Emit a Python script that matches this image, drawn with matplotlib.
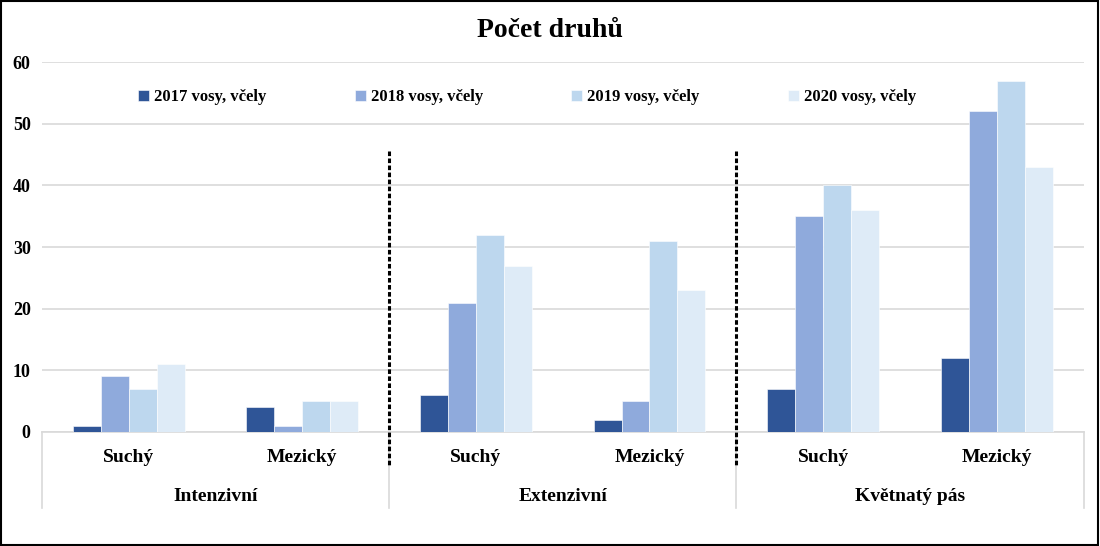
import numpy as np
import matplotlib
matplotlib.use("Agg")
import matplotlib.pyplot as plt
from matplotlib.lines import Line2D
from matplotlib.patches import Rectangle

# data
groups = ["Intenzivní", "Extenzivní", "Květnatý pás"]
habitats = ["Suchý", "Mezický"]
series_names = ["2017 vosy, včely", "2018 vosy, včely", "2019 vosy, včely", "2020 vosy, včely"]
v2017 = [1, 4, 6, 2, 7, 12]
v2018 = [9, 1, 21, 5, 35, 52]
v2019 = [7, 5, 32, 31, 40, 57]
v2020 = [11, 5, 27, 23, 36, 43]
colors = ["#2F5597", "#8FAADC", "#BDD7EE", "#DEEBF7"]

plt.rcParams['font.family'] = ['Liberation Serif', 'DejaVu Serif']
plt.rcParams['font.weight'] = 'bold'

fig = plt.figure(figsize=(11, 5.46), dpi=100)
ax = fig.add_axes([0.038, 0.2088, 0.947, 0.6776])

x = np.arange(len(v2017))
w = 0.161
for i, (vals, name) in enumerate(zip([v2017, v2018, v2019, v2020], series_names)):
    ax.bar(x + (i - 1.5) * w, vals, w, color=colors[i], label=name,
           edgecolor="white", linewidth=0.4, zorder=3)

ax.set_xlim(-0.5, 5.5)
ax.set_ylim(0, 60)
ax.set_yticks(range(0, 61, 10))
ax.yaxis.grid(True, color="#D9D9D9", linewidth=1.2, zorder=0)
ax.set_axisbelow(True)
for s in ["top", "right", "left"]:
    ax.spines[s].set_visible(False)
ax.spines["bottom"].set_color("#D9D9D9")
ax.spines["bottom"].set_linewidth(1.2)
ax.tick_params(axis="y", length=0, labelsize=13, pad=8)
ax.tick_params(axis="x", length=0)
ax.set_xticks([])

# two level category labels
trans = ax.get_xaxis_transform()
for k, xv in enumerate(x):
    ax.text(xv, -0.07, habitats[k % 2], transform=trans, ha="center", va="center",
            fontsize=14, fontweight="bold")
for g, name in enumerate(groups):
    ax.text(2 * g + 0.5, -0.175, name, transform=trans, ha="center", va="center",
            fontsize=14, fontweight="bold")
for b in [-0.5, 1.5, 3.5, 5.5]:
    ax.add_line(Line2D([b, b], [0, -0.205], transform=trans, color="#D9D9D9",
                       linewidth=1.2, clip_on=False))

# dashed separators
for b in [1.5, 3.5]:
    ax.plot([b, b], [45.5, -5.6], color="black", linestyle=(0, (1.5, 0.8)),
            linewidth=2.2, clip_on=False, zorder=5)

ax.legend(loc="center", bbox_to_anchor=(0.466, 0.905), ncol=4, frameon=False,
          fontsize=12, handlelength=0.65, handleheight=0.65, handletextpad=0.3,
          columnspacing=5.3)

fig.text(0.5, 0.945, "Počet druhů", ha="center", va="center", fontsize=20,
         fontweight="bold")

fig.patches.append(Rectangle((0.001, 0.002), 0.997, 0.996, transform=fig.transFigure,
                             fill=False, edgecolor="black", linewidth=1.5))

fig.savefig("out.png", dpi=100)
